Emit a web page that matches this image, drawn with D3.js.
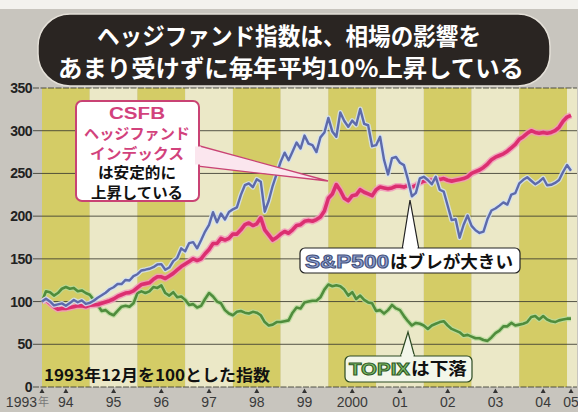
<!DOCTYPE html>
<html>
<head>
<meta charset="utf-8">
<script src="https://cdn.jsdelivr.net/npm/d3@7"></script>
<style>
  body { margin: 0; background: #c8c5be; }
  svg { display: block; }
</style>
</head>
<body>
<div id="chart"></div>
<script>
const width = 578, height = 412;

// monthly index values, Dec 1993 = 100 (Dec 1993 .. Jan 2005)
const csfb = [100,
  102, 98, 94, 91, 92, 92, 93, 94, 95, 95, 94, 95.6,
  96, 96.5, 98, 99.5, 101, 103, 106, 108, 110, 110.5, 112.5, 116.4,
  120, 121, 122, 126, 129, 129, 127, 130, 133, 137, 141, 144,
  147, 150, 148, 150, 156, 161, 168, 168, 174, 172, 174, 179,
  179, 184, 190, 192, 189, 191, 198, 184, 178, 172, 175, 179,
  182, 180, 184, 189, 190, 194, 195, 194, 196, 199, 206, 221,
  226, 237, 230, 221, 218, 224, 225, 231, 228, 226, 224, 231,
  234, 233, 232, 233, 235, 235, 234, 236, 234, 236, 239, 241,
  242, 242, 243, 243, 244, 242, 241, 242, 243, 244, 246, 250,
  252, 254, 257, 261, 266, 269, 271, 273, 276, 280, 284, 290,
  293, 297, 300, 298, 297, 298, 297, 298, 300, 304, 311, 316,
  318];

const sp500 = [100,
  103.2, 100.1, 95.6, 96.7, 97.9, 95.2, 98.2, 101.9, 99.2, 101.3, 97.3, 98.5,
  100.9, 104.5, 107.3, 110.3, 114.4, 116.8, 120.5, 120.5, 125.3, 124.7, 129.8, 132.0,
  136.4, 137.3, 138.4, 140.2, 143.5, 143.8, 137.2, 139.8, 147.3, 151.2, 162.3, 158.8,
  168.5, 169.5, 162.3, 171.8, 181.9, 189.8, 204.6, 192.8, 203.1, 196.1, 204.8, 208.0,
  210.2, 224.9, 236.2, 238.3, 233.9, 243.1, 240.3, 205.2, 218.0, 235.5, 249.5, 263.5,
  274.3, 265.5, 275.8, 286.2, 279.1, 294.3, 284.9, 283.1, 275.0, 292.2, 297.8, 315.0,
  299.0, 292.9, 321.3, 311.4, 304.6, 311.8, 306.7, 325.4, 308.0, 306.4, 281.9, 283.1,
  292.9, 265.8, 248.8, 267.9, 269.2, 262.5, 259.7, 243.0, 223.2, 227.2, 244.3, 246.1,
  242.3, 237.3, 246.0, 230.9, 228.8, 212.2, 195.4, 196.4, 174.8, 189.9, 200.7, 188.6,
  183.4, 180.3, 181.8, 196.6, 206.6, 208.9, 212.3, 216.1, 213.5, 225.3, 226.9, 238.4,
  242.5, 245.5, 241.4, 237.4, 240.3, 244.6, 236.2, 236.7, 238.9, 242.3, 251.7, 259.8,
  253.2];

const topix = [100,
  112, 111, 107, 110, 115, 117, 115, 116, 112, 113, 110, 108,
  102, 96, 89, 90, 86, 84, 89, 94, 95, 94, 98, 110,
  112, 110, 112, 117, 116, 119, 110, 107, 111, 105, 106, 102,
  96, 97, 93, 95, 103, 110, 106, 100, 98, 90, 86, 84,
  88, 89, 87, 86, 88, 87, 84, 76, 72, 73, 76, 76,
  77, 78, 87, 93, 92, 99, 100, 101, 101, 105, 114, 120,
  118, 119, 118, 114, 107, 111, 103, 107, 102, 99, 98, 89,
  90, 86, 90, 96, 92, 90, 83, 77, 72, 75, 74, 72,
  68, 72, 74, 76, 77, 72, 68, 66, 64, 60, 61, 59,
  57, 57, 55, 54, 58, 63, 66, 71, 71, 75, 72, 73,
  74, 76, 82, 83, 79, 83, 79, 77, 76, 78, 79, 80,
  80];

const yTicks = [0, 50, 100, 150, 200, 250, 300, 350];
const bandYears = [1994, 1995, 1996, 1997, 1998, 1999, 2000, 2001, 2002, 2003, 2004, 2005];
const yearLabels = ["94", "95", "96", "97", "98", "99", "2000", "01", "02", "03", "04"];

const titleLines = ["ヘッジファンド指数は、相場の影響を", "あまり受けずに毎年平均10%上昇している"];

const jp = "'Noto Sans CJK JP', 'Noto Sans', sans-serif";
const num = "'Liberation Sans', Arial, sans-serif";

const svg = d3.select("#chart")
  .append("svg")
  .attr("width", width)
  .attr("height", height);

const plotL = 40, plotR = 577;
const x = d3.scaleLinear().domain([1994, 2005 + 1 / 12]).range([42, 571]);
const y = d3.scaleLinear().domain([0, 350]).range([387, 88]);

// background
svg.append("rect").attr("width", width).attr("height", height).attr("fill", "#c8c5be");
svg.append("rect").attr("width", width).attr("height", 9).attr("fill", "#f3f2ee");

// year bands
svg.selectAll(".band")
  .data(bandYears)
  .enter().append("rect")
  .attr("x", d => Math.max(plotL, x(d)))
  .attr("y", y(350))
  .attr("width", d => Math.min(plotR, x(d + 1)) - Math.max(plotL, x(d)))
  .attr("height", y(0) - y(350))
  .attr("fill", (d, i) => i % 2 === 0 ? "#d4cc66" : "#ebe8c7");

// grid lines
svg.selectAll(".grid")
  .data(yTicks)
  .enter().append("line")
  .attr("x1", 33).attr("x2", plotR)
  .attr("y1", d => y(d)).attr("y2", d => y(d))
  .attr("stroke", "#3a3a30")
  .attr("stroke-width", 1)
  .attr("stroke-opacity", 0.85)
  .attr("stroke-dasharray", d => d === 0 || d === 350 ? "6,1.5" : null);

svg.selectAll(".ylab")
  .data(yTicks)
  .enter().append("text")
  .attr("x", 32).attr("y", d => y(d) + 5)
  .attr("text-anchor", "end")
  .attr("font-family", num)
  .attr("font-weight", "bold")
  .attr("font-size", 14)
  .attr("letter-spacing", -0.5)
  .attr("fill", "#222")
  .text(d => d);

// x ticks: small triangles + labels
const tickPos = [1994].concat(yearLabels.map((d, i) => 1994.5 + i), [2005 + 1 / 12]);
svg.selectAll(".tri")
  .data(tickPos)
  .enter().append("path")
  .attr("d", d => `M${x(d) - 2.5},${393} L${x(d) + 2.5},${393} L${x(d)},${388.5} Z`)
  .attr("fill", "#333");

svg.selectAll(".xlab")
  .data(yearLabels)
  .enter().append("text")
  .attr("x", (d, i) => x(1994.5 + i))
  .attr("y", 407)
  .attr("text-anchor", "middle")
  .attr("font-family", num)
  .attr("font-size", 14)
  .attr("fill", "#3a3a3a")
  .text(d => d);

svg.append("text").attr("x", 37).attr("y", 407).attr("text-anchor", "end")
  .attr("font-family", num).attr("font-size", 14).attr("fill", "#3a3a3a").text("1993");
svg.append("text").attr("x", 38).attr("y", 406)
  .attr("font-family", jp).attr("font-size", 11).attr("fill", "#777").text("年");
svg.append("text").attr("x", x(2005 + 1 / 12)).attr("y", 407).attr("text-anchor", "middle")
  .attr("font-family", num).attr("font-size", 14).attr("fill", "#3a3a3a").text("05");

// lines
const line = d3.line()
  .x((d, i) => x(1994 + i / 12))
  .y(d => y(d));

function drawSeries(values, halo, core, hw, cw) {
  svg.append("path").datum(values)
    .attr("d", line).attr("fill", "none")
    .attr("stroke", halo).attr("stroke-width", hw)
    .attr("stroke-linejoin", "round").attr("stroke-opacity", 0.85);
  svg.append("path").datum(values)
    .attr("d", line).attr("fill", "none")
    .attr("stroke", core).attr("stroke-width", cw)
    .attr("stroke-linejoin", "round");
}
drawSeries(topix, "#b9dc9c", "#4f8c3c", 5, 2.6);
drawSeries(csfb, "#f29abb", "#dc2f70", 6.5, 3.6);
drawSeries(sp500, "#d2e0f4", "#5d6aab", 5, 2.4);

// title pill
svg.append("rect")
  .attr("x", 38).attr("y", 14).attr("width", 512).attr("height", 72)
  .attr("rx", 32)
  .attr("fill", "#2a2522")
  .attr("stroke", "#e4e0d8").attr("stroke-width", 1.5);

svg.selectAll(".title")
  .data(titleLines)
  .enter().append("text")
  .attr("x", (d, i) => i === 0 ? 289 : 291)
  .attr("y", (d, i) => i === 0 ? 45 : 77)
  .attr("text-anchor", "middle")
  .attr("font-family", jp)
  .attr("font-weight", "bold")
  .attr("font-size", 24)
  .attr("fill", "#fff")
  .attr("textLength", (d, i) => i === 0 ? 384 : 466)
  .attr("lengthAdjust", "spacingAndGlyphs")
  .text(d => d);

// subtitle
svg.append("text")
  .attr("x", 44).attr("y", 381)
  .attr("font-family", jp).attr("font-weight", "bold")
  .attr("font-size", 16).attr("fill", "#111")
  .attr("textLength", 226).attr("lengthAdjust", "spacingAndGlyphs")
  .text("1993年12月を100とした指数");

// CSFB callout
svg.append("path")
  .attr("d", "M196,145 L328,181 L196,166 Z")
  .attr("fill", "#fbe6ee").attr("stroke", "#c94374").attr("stroke-width", 1.3);
svg.append("rect")
  .attr("x", 76).attr("y", 101).attr("width", 123).attr("height", 100).attr("rx", 6)
  .attr("fill", "#fff").attr("stroke", "#c94374").attr("stroke-width", 2);
svg.append("rect")
  .attr("x", 195).attr("y", 146.5).attr("width", 6).attr("height", 18).attr("fill", "#fbe6ee");

const csfbText = [
  { t: "CSFB", c: "#d2427c", f: num, s: 16, w: 56 },
  { t: "ヘッジファンド", c: "#d2427c", f: jp, s: 15, w: 106 },
  { t: "インデックス", c: "#d2427c", f: jp, s: 15, w: 94 },
  { t: "は安定的に", c: "#111", f: jp, s: 15, w: 78 },
  { t: "上昇している", c: "#111", f: jp, s: 15, w: 92 }
];
svg.selectAll(".csfbt")
  .data(csfbText)
  .enter().append("text")
  .attr("x", 137)
  .attr("y", (d, i) => 119 + i * 19.8)
  .attr("text-anchor", "middle")
  .attr("font-family", d => d.f)
  .attr("font-weight", "bold")
  .attr("font-size", d => d.s)
  .attr("fill", d => d.c)
  .attr("textLength", d => d.w)
  .attr("lengthAdjust", "spacingAndGlyphs")
  .text(d => d.t);

// S&P500 callout
svg.append("path")
  .attr("d", "M402,250 L410,200 L419,250 Z")
  .attr("fill", "#fff").attr("stroke", "#222").attr("stroke-width", 1.2);
svg.append("rect")
  .attr("x", 300).attr("y", 248).attr("width", 220).attr("height", 25).attr("rx", 5)
  .attr("fill", "#fff").attr("stroke", "#222").attr("stroke-width", 1.2);
svg.append("rect").attr("x", 403.5).attr("y", 246).attr("width", 14).attr("height", 4).attr("fill", "#fff");
svg.append("text")
  .attr("x", 305).attr("y", 268)
  .attr("font-family", num).attr("font-weight", "bold").attr("font-size", 18)
  .attr("fill", "#8da2d4").attr("stroke", "#45507a").attr("stroke-width", 1)
  .attr("textLength", 84).attr("lengthAdjust", "spacingAndGlyphs")
  .text("S&P500");
svg.append("text")
  .attr("x", 390).attr("y", 268)
  .attr("font-family", jp).attr("font-weight", "bold").attr("font-size", 17.5)
  .attr("fill", "#111")
  .attr("textLength", 123).attr("lengthAdjust", "spacingAndGlyphs")
  .text("はブレが大きい");

// TOPIX callout
svg.append("path")
  .attr("d", "M400,358 L408,332 L415,358 Z")
  .attr("fill", "#f3f7ea").attr("stroke", "#2c4a22").attr("stroke-width", 1.2);
svg.append("rect")
  .attr("x", 345).attr("y", 356).attr("width", 127).attr("height", 26).attr("rx", 5)
  .attr("fill", "#f3f7ea").attr("stroke", "#2c4a22").attr("stroke-width", 1.2);
svg.append("rect").attr("x", 401.5).attr("y", 354).attr("width", 12).attr("height", 4).attr("fill", "#f3f7ea");
svg.append("text")
  .attr("x", 349).attr("y", 375)
  .attr("font-family", num).attr("font-weight", "bold").attr("font-size", 17)
  .attr("fill", "#7fbf6a").attr("stroke", "#2f5a26").attr("stroke-width", 1)
  .attr("textLength", 61).attr("lengthAdjust", "spacingAndGlyphs")
  .text("TOPIX");
svg.append("text")
  .attr("x", 411).attr("y", 375)
  .attr("font-family", jp).attr("font-weight", "bold").attr("font-size", 17)
  .attr("fill", "#111")
  .attr("textLength", 56).attr("lengthAdjust", "spacingAndGlyphs")
  .text("は下落");
</script>
</body>
</html>
